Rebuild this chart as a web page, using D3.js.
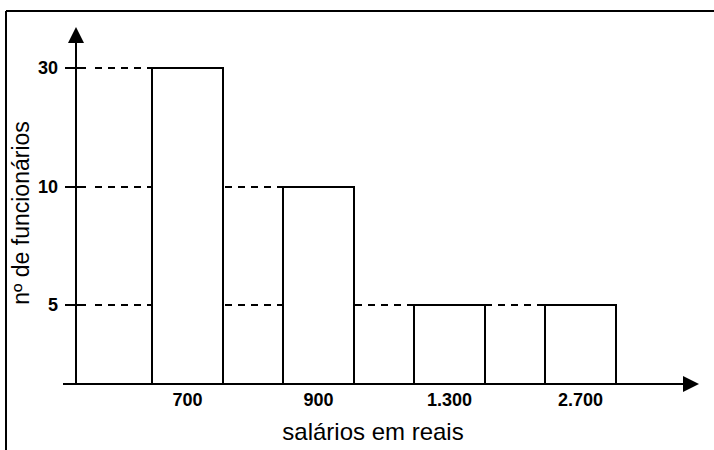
<!DOCTYPE html>
<html>
<head>
<meta charset="utf-8">
<script src="https://cdn.jsdelivr.net/npm/d3@7/dist/d3.min.js"></script>
<style>
  html, body { margin: 0; padding: 0; background: #fff; }
  svg { display: block; font-family: "Liberation Sans", Arial, sans-serif; }
</style>
</head>
<body>
<svg id="chart" width="714" height="450"></svg>
<script>
const categories = ["700", "900", "1.300", "2.700"];
const values = [30, 10, 5, 5];
const yTicks = [5, 10, 30];
const xTitle = "salários em reais";
const yTitle = "nº de funcionários";

const svg = d3.select("#chart");

// frame (top and left edges visible)
svg.append("line").attr("x1", 6).attr("y1", 11).attr("x2", 714).attr("y2", 11)
  .attr("stroke", "#000").attr("stroke-width", 2);
svg.append("line").attr("x1", 6).attr("y1", 11).attr("x2", 6).attr("y2", 450)
  .attr("stroke", "#000").attr("stroke-width", 2);

const x = d3.scaleBand().domain(categories).range([86.5, 681.5])
  .paddingInner(0.458).paddingOuter(0.5);
// schematic (non-proportional) vertical scale, as in the original drawing
const y = d3.scaleLinear().domain([0, 5, 10, 30]).range([384, 305, 187, 68]);

const axisX = 76;

// dashed guide lines from axis to each bar's left edge
svg.append("g").selectAll("line").data(categories).join("line")
  .attr("x1", 95)
  .attr("x2", d => x(d))
  .attr("y1", (d, i) => y(values[i]))
  .attr("y2", (d, i) => y(values[i]))
  .attr("stroke", "#000").attr("stroke-width", 2)
  .attr("stroke-dasharray", "7,6");

// bars
svg.append("g").selectAll("rect").data(categories).join("rect")
  .attr("x", d => x(d))
  .attr("width", x.bandwidth())
  .attr("y", (d, i) => y(values[i]))
  .attr("height", (d, i) => y(0) - y(values[i]))
  .attr("fill", "#fff").attr("stroke", "#000").attr("stroke-width", 2);

// y axis
svg.append("line").attr("x1", axisX).attr("x2", axisX).attr("y1", 40).attr("y2", y(0))
  .attr("stroke", "#000").attr("stroke-width", 2);
svg.append("path").attr("d", `M${axisX},27 L${axisX - 8},43 L${axisX + 8},43 Z`).attr("fill", "#000");

// x axis
svg.append("line").attr("x1", 63).attr("x2", 686).attr("y1", y(0)).attr("y2", y(0))
  .attr("stroke", "#000").attr("stroke-width", 2);
svg.append("path").attr("d", `M699,${y(0)} L683,${y(0) - 8} L683,${y(0) + 8} Z`).attr("fill", "#000");

// y ticks
const yt = svg.append("g").selectAll("g").data(yTicks).join("g");
yt.append("line").attr("x1", 65).attr("x2", 86)
  .attr("y1", d => y(d)).attr("y2", d => y(d))
  .attr("stroke", "#000").attr("stroke-width", 2);
yt.append("text").attr("x", 58).attr("y", d => y(d)).attr("dy", "0.36em")
  .attr("text-anchor", "end").attr("font-size", 18).attr("font-weight", "bold")
  .text(d => d);

// x tick labels
svg.append("g").selectAll("text").data(categories).join("text")
  .attr("x", d => x(d) + x.bandwidth() / 2)
  .attr("y", 406)
  .attr("text-anchor", "middle").attr("font-size", 18).attr("font-weight", "bold")
  .text(d => d);

// titles
svg.append("text").attr("x", 373).attr("y", 440).attr("text-anchor", "middle")
  .attr("font-size", 24).text(xTitle);
svg.append("text").attr("transform", "translate(29,213) rotate(-90)")
  .attr("text-anchor", "middle").attr("font-size", 23).text(yTitle);
</script>
</body>
</html>
